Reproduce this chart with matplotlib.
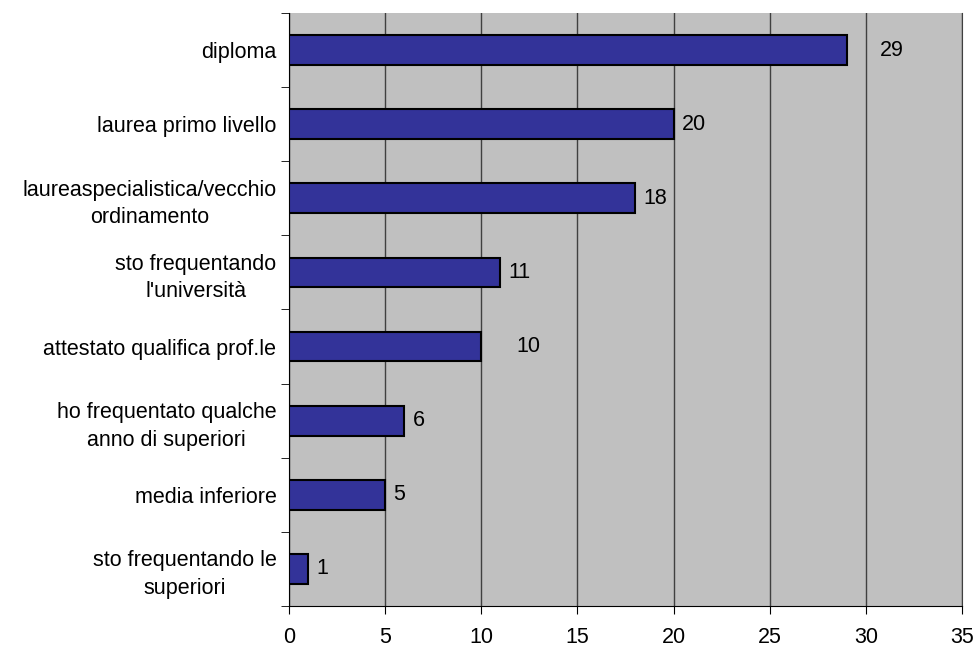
import matplotlib.pyplot as plt
import numpy as np

plt.rcParams['font.family'] = ['Liberation Sans', 'DejaVu Sans']

categories = ['diploma', 'laurea primo livello', 'laureaspecialistica/vecchio\nordinamento',
              "sto frequentando\nl'università", 'attestato qualifica prof.le',
              'ho frequentato qualche\nanno di superiori', 'media inferiore',
              'sto frequentando le\nsuperiori']
values = [29, 20, 18, 11, 10, 6, 5, 1]
label_dx = [24, 6, 6, 6, 25, 6, 6, 6]

fig = plt.figure(figsize=(9.77, 6.48), dpi=100)
ax = fig.add_axes([0.2958, 0.0648, 0.6888, 0.9152])
ax.set_facecolor('#c0c0c0')

fs = 15.5
y = np.arange(len(categories))[::-1]
ax.barh(y, values, height=0.4, color='#333399', edgecolor='black', linewidth=1.5, zorder=3)
for yi, v, dx in zip(y, values, label_dx):
    ax.annotate(str(v), (v, yi), xytext=(dx, 0), textcoords='offset points',
                va='center', ha='left', fontsize=fs)

ax.set_xlim(0, 35)
ax.set_ylim(-0.5, len(categories) - 0.5)
ax.set_xticks(range(0, 36, 5))
ax.xaxis.grid(True, color='#404040', linewidth=1, zorder=0)
ax.set_axisbelow(True)

ax.set_yticks(y)
ax.set_yticklabels(categories, fontsize=fs, multialignment='center', linespacing=1.4)
ax.tick_params(axis='y', length=0, pad=9)
ax.set_yticks(np.arange(-0.5, len(categories), 1), minor=True)
ax.tick_params(axis='y', which='minor', length=6, direction='out')
ax.tick_params(axis='x', labelsize=fs, length=6, pad=9)

ax.spines['top'].set_visible(False)
ax.spines['right'].set_color('#404040')

fig.savefig('out.png', dpi=100)
